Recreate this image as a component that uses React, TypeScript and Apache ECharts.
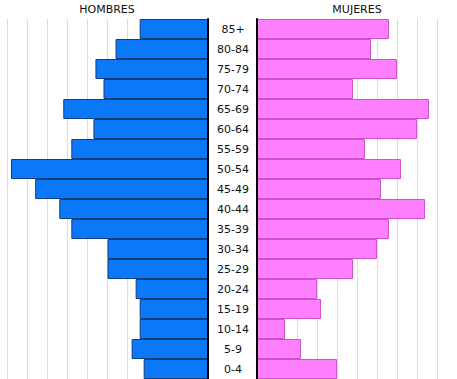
import React, { useEffect, useRef } from "react";
import * as echarts from "echarts";

const ageGroups = ["0-4", "5-9", "10-14", "15-19", "20-24", "25-29", "30-34", "35-39", "40-44", "45-49", "50-54", "55-59", "60-64", "65-69", "70-74", "75-79", "80-84", "85+"];
const hombres = [16, 19, 17, 17, 18, 25, 25, 34, 37, 43, 49, 34, 28.5, 36, 26, 28, 23, 17];
const mujeres = [20, 11, 7, 16, 15, 24, 30, 33, 42, 31, 36, 27, 40, 43, 24, 35, 28.5, 33];
const axisMax = 50;
const axisStep = 5;

export default function App() {
  const ref = useRef<HTMLDivElement>(null);
  useEffect(() => {
    if (!ref.current) return;
    const chart = echarts.init(ref.current, null, { renderer: "svg" });
    const font = "DejaVu Sans, Verdana, sans-serif";
    chart.setOption({
      animation: false,
      backgroundColor: "#ffffff",
      graphic: [
        { type: "text", x: 107, y: 9, style: { text: "HOMBRES", font: `11px ${font}`, fill: "#111", textAlign: "center", textVerticalAlign: "middle" } },
        { type: "text", x: 357, y: 9, style: { text: "MUJERES", font: `11px ${font}`, fill: "#111", textAlign: "center", textVerticalAlign: "middle" } },
      ],
      grid: [
        { left: 7, right: 249, top: 19, bottom: 0 },
        { left: 257, right: 0, top: 19, bottom: 0 },
      ],
      xAxis: [
        {
          gridIndex: 0, type: "value", min: 0, max: axisMax, interval: axisStep, inverse: true,
          axisLabel: { show: false }, axisTick: { show: false }, axisLine: { show: false },
          splitLine: { show: true, lineStyle: { color: "#dcdcdc", width: 1 } },
        },
        {
          gridIndex: 1, type: "value", min: 0, max: axisMax, interval: axisStep,
          axisLabel: { show: false }, axisTick: { show: false }, axisLine: { show: false },
          splitLine: { show: true, lineStyle: { color: "#dcdcdc", width: 1 } },
        },
      ],
      yAxis: [
        {
          gridIndex: 0, type: "category", data: ageGroups, position: "right",
          axisTick: { show: false },
          axisLine: { show: true, onZero: false, lineStyle: { color: "#000", width: 2 } },
          axisLabel: { show: true, align: "center", margin: 25, color: "#111", fontSize: 11, fontFamily: font },
          splitLine: { show: false },
          z: 5,
        },
        {
          gridIndex: 1, type: "category", data: ageGroups, position: "left",
          axisTick: { show: false },
          axisLine: { show: true, onZero: false, lineStyle: { color: "#000", width: 2 } },
          axisLabel: { show: false },
          splitLine: { show: false },
          z: 5,
        },
      ],
      series: [
        {
          type: "bar", name: "HOMBRES", xAxisIndex: 0, yAxisIndex: 0, data: hombres,
          barCategoryGap: "0%",
          itemStyle: { color: "#0a78f8", borderColor: "#153f7a", borderWidth: 1 },
        },
        {
          type: "bar", name: "MUJERES", xAxisIndex: 1, yAxisIndex: 1, data: mujeres,
          barCategoryGap: "0%",
          itemStyle: { color: "#ff80ff", borderColor: "#d050d0", borderWidth: 1 },
        },
      ],
    });
    return () => chart.dispose();
  }, []);
  return <div ref={ref} style={{ position: "fixed", left: 0, top: 0, width: 457, height: 379 }} />;
}
